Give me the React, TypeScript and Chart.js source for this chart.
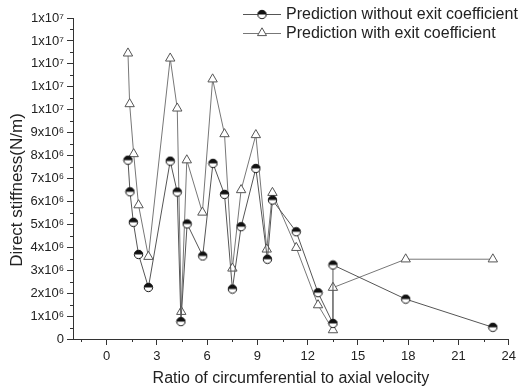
import React, { useEffect, useRef } from 'react';
import { Chart, registerables } from 'chart.js';
Chart.register(...registerables);

// Ratio of circumferential to axial velocity (x) for each series
const xWithout = [1.28, 1.40, 1.60, 1.91, 2.50, 3.80, 4.22, 4.44, 4.81, 5.74, 6.35, 7.04, 7.51, 8.03, 8.91, 9.60, 9.90, 11.32, 12.62, 13.51, 13.51, 17.85, 23.05];
const yWithout = [7.80e6, 6.42e6, 5.09e6, 3.69e6, 2.25e6, 7.76e6, 6.41e6, 0.76e6, 5.02e6, 3.62e6, 7.66e6, 6.31e6, 2.18e6, 4.90e6, 7.44e6, 3.48e6, 6.06e6, 4.68e6, 2.02e6, 0.68e6, 3.23e6, 1.74e6, 0.51e6];
const xWith = [1.28, 1.38, 1.62, 1.91, 2.50, 3.80, 4.22, 4.46, 4.79, 5.72, 6.33, 7.04, 7.51, 8.03, 8.91, 9.56, 9.90, 11.32, 12.62, 13.51, 13.51, 17.85, 23.05];
const yWith = [12.46e6, 10.25e6, 8.07e6, 5.84e6, 3.59e6, 12.24e6, 10.06e6, 1.19e6, 7.80e6, 5.52e6, 11.33e6, 8.94e6, 3.08e6, 6.50e6, 8.90e6, 3.91e6, 6.38e6, 3.98e6, 1.48e6, 0.39e6, 2.24e6, 3.48e6, 3.48e6];

const seriesNames = ['Prediction without exit coefficient', 'Prediction with exit coefficient'];
const xTitle = 'Ratio of circumferential to axial velocity';
const yTitle = 'Direct stiffness(N/m)';

const xTickValues = [0, 3, 6, 9, 12, 15, 18, 21, 24];
const xMinorTicks = [-1.5, 1.5, 4.5, 7.5, 10.5, 13.5, 16.5, 19.5, 22.5];
const yTickValues = [0, 1e6, 2e6, 3e6, 4e6, 5e6, 6e6, 7e6, 8e6, 9e6, 10e6, 11e6, 12e6, 13e6, 14e6];
const yTickLabels = ['0', '1x10⁶', '2x10⁶', '3x10⁶', '4x10⁶', '5x10⁶', '6x10⁶', '7x10⁶', '8x10⁶', '9x10⁶', '1x10⁷', '1x10⁷', '1x10⁷', '1x10⁷', '1x10⁷'];
const yMinorTicks = [0.5e6, 1.5e6, 2.5e6, 3.5e6, 4.5e6, 5.5e6, 6.5e6, 7.5e6, 8.5e6, 9.5e6, 10.5e6, 11.5e6, 12.5e6, 13.5e6];

const X_MIN = -2;
const X_MAX = 24;
const Y_MIN = 0;
const Y_MAX = 14e6;

const FONT = "'Liberation Sans', Arial, sans-serif";
const AXIS_COLOR = '#333';
const TEXT_COLOR = '#222';

function makeHalfCircle(): HTMLCanvasElement {
  const c = document.createElement('canvas');
  c.width = 11;
  c.height = 11;
  const ctx = c.getContext('2d')!;
  const cx = 5.5, cy = 5.5, r = 4.2;
  ctx.beginPath();
  ctx.arc(cx, cy, r, 0, Math.PI * 2);
  ctx.fillStyle = '#fff';
  ctx.fill();
  ctx.beginPath();
  ctx.arc(cx, cy, r, Math.PI, Math.PI * 2);
  ctx.closePath();
  ctx.fillStyle = '#111';
  ctx.fill();
  ctx.beginPath();
  ctx.arc(cx, cy, r, 0, Math.PI * 2);
  ctx.strokeStyle = '#111';
  ctx.lineWidth = 1;
  ctx.stroke();
  return c;
}

export default function App() {
  const ref = useRef<HTMLCanvasElement | null>(null);
  useEffect(() => {
    if (!ref.current) return;
    const halfCircle = makeHalfCircle();

    const extras = {
      id: 'extras',
      afterDraw(chart: any) {
        const ctx = chart.ctx;
        const xs = chart.scales.x;
        const ys = chart.scales.y;
        const area = chart.chartArea;
        ctx.save();
        ctx.strokeStyle = AXIS_COLOR;
        ctx.lineWidth = 1;
        // minor ticks
        ctx.beginPath();
        for (const v of xMinorTicks) {
          const px = Math.round(xs.getPixelForValue(v)) + 0.5;
          ctx.moveTo(px, area.bottom);
          ctx.lineTo(px, area.bottom + 3);
        }
        for (const v of yMinorTicks) {
          const py = Math.round(ys.getPixelForValue(v)) + 0.5;
          ctx.moveTo(area.left, py);
          ctx.lineTo(area.left - 3, py);
        }
        ctx.stroke();

        // y-axis title
        ctx.save();
        ctx.translate(17, 190);
        ctx.rotate(-Math.PI / 2);
        ctx.font = `17px ${FONT}`;
        ctx.fillStyle = TEXT_COLOR;
        ctx.textAlign = 'center';
        ctx.textBaseline = 'middle';
        ctx.fillText(yTitle, 0, 0);
        ctx.restore();

        // legend
        const lx0 = 243, lx1 = 281, mx = 262, tx = 286;
        const rows = [14, 33];
        ctx.font = `16px ${FONT}`;
        ctx.textBaseline = 'middle';
        ctx.textAlign = 'left';
        rows.forEach((ry, i) => {
          ctx.beginPath();
          ctx.strokeStyle = i === 0 ? '#555' : '#777';
          ctx.moveTo(lx0, ry + 0.5);
          ctx.lineTo(lx1, ry + 0.5);
          ctx.stroke();
          if (i === 0) {
            ctx.drawImage(halfCircle, mx - 5.5, ry - 5);
          } else {
            const r = 5.2;
            ctx.beginPath();
            ctx.moveTo(mx, ry - r);
            ctx.lineTo(mx + r * Math.sin(2 * Math.PI / 3), ry - r * Math.cos(2 * Math.PI / 3));
            ctx.lineTo(mx + r * Math.sin(4 * Math.PI / 3), ry - r * Math.cos(4 * Math.PI / 3));
            ctx.closePath();
            ctx.fillStyle = '#fff';
            ctx.fill();
            ctx.strokeStyle = '#555';
            ctx.stroke();
          }
          ctx.fillStyle = TEXT_COLOR;
          ctx.fillText(seriesNames[i], tx, ry + 1);
        });
        ctx.restore();
      },
    };

    const chart = new Chart(ref.current, {
      type: 'line',
      data: {
        datasets: [
          {
            label: seriesNames[0],
            data: xWithout.map((x, i) => ({ x, y: yWithout[i] })),
            borderColor: '#555',
            borderWidth: 1,
            pointStyle: halfCircle as any,
            pointRadius: 4.5,
            tension: 0,
            fill: false,
          },
          {
            label: seriesNames[1],
            data: xWith.map((x, i) => ({ x, y: yWith[i] })),
            borderColor: '#777',
            borderWidth: 1,
            pointStyle: 'triangle',
            pointRadius: 5.4,
            pointBackgroundColor: '#fff',
            pointBorderColor: '#555',
            pointBorderWidth: 1,
            tension: 0,
            fill: false,
          },
        ],
      },
      options: {
        responsive: false,
        animation: false,
        layout: { padding: { top: 18, right: 7, left: 0, bottom: 0 } },
        plugins: {
          legend: { display: false },
          tooltip: { enabled: false },
        },
        scales: {
          x: {
            type: 'linear',
            min: X_MIN,
            max: X_MAX,
            afterBuildTicks: (s: any) => {
              s.ticks = xTickValues.map((v) => ({ value: v }));
            },
            afterFit: (s: any) => {
              s.height = 53;
            },
            grid: { display: true, drawOnChartArea: false, drawTicks: true, tickLength: 6, color: AXIS_COLOR },
            border: { display: true, color: AXIS_COLOR, width: 1 },
            ticks: {
              color: TEXT_COLOR,
              font: { family: FONT, size: 13 },
              padding: 4,
              maxRotation: 0,
              autoSkip: false,
              callback: (v: any) => String(v),
            },
            title: {
              display: true,
              text: xTitle,
              color: TEXT_COLOR,
              font: { family: FONT, size: 16 },
              padding: { top: 0, bottom: 4 },
            },
          },
          y: {
            type: 'linear',
            min: Y_MIN,
            max: Y_MAX,
            afterBuildTicks: (s: any) => {
              s.ticks = yTickValues.map((v) => ({ value: v }));
            },
            afterFit: (s: any) => {
              s.width = 73;
            },
            grid: { display: true, drawOnChartArea: false, drawTicks: true, tickLength: 6, color: AXIS_COLOR },
            border: { display: true, color: AXIS_COLOR, width: 1 },
            ticks: {
              color: TEXT_COLOR,
              font: { family: FONT, size: 13 },
              padding: 3,
              autoSkip: false,
              callback: (v: any) => {
                const idx = yTickValues.indexOf(v);
                return idx >= 0 ? yTickLabels[idx] : '';
              },
            },
            title: { display: false },
          },
        },
      },
      plugins: [extras],
    } as any);
    return () => chart.destroy();
  }, []);

  return (
    <div style={{ position: 'absolute', left: 0, top: 0, width: 520, height: 392, background: '#fff' }}>
      <canvas ref={ref} width={520} height={392} style={{ display: 'block' }} />
    </div>
  );
}
